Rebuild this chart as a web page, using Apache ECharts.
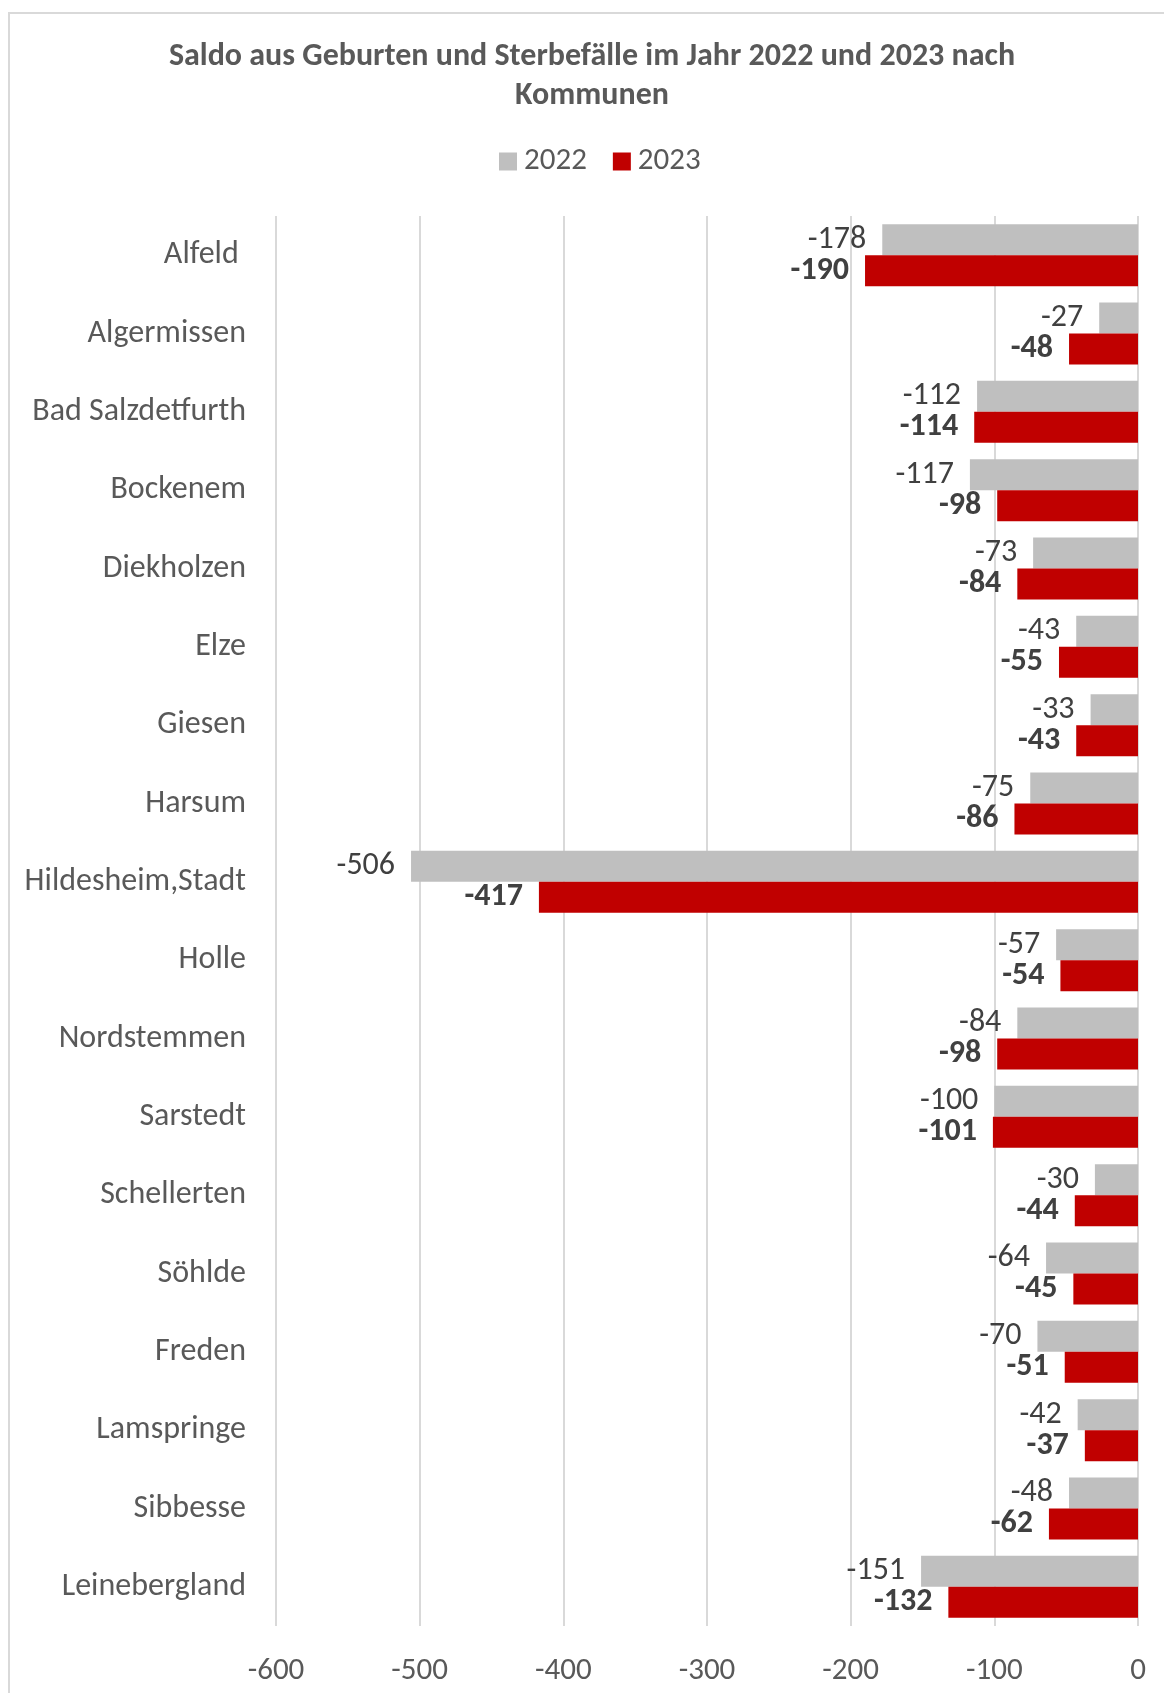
<!DOCTYPE html>
<html>
<head>
<meta charset="utf-8">
<script src="https://cdn.jsdelivr.net/npm/echarts@6/dist/echarts.min.js"></script>
<style>
  html, body { margin: 0; padding: 0; background: #fff; }
  #chart { width: 1164px; height: 1693px; }
</style>
</head>
<body>
<div id="chart"></div>
<script>
// Kommunen top to bottom, as in the reference
const KOMMUNEN = [
  "Alfeld ", "Algermissen", "Bad Salzdetfurth", "Bockenem", "Diekholzen",
  "Elze", "Giesen", "Harsum", "Hildesheim,Stadt", "Holle", "Nordstemmen",
  "Sarstedt", "Schellerten", "Söhlde", "Freden", "Lamspringe", "Sibbesse",
  "Leinebergland",
];
const SALDO_2022 = [-178, -27, -112, -117, -73, -43, -33, -75, -506, -57, -84, -100, -30, -64, -70, -42, -48, -151];
const SALDO_2023 = [-190, -48, -114, -98, -84, -55, -43, -86, -417, -54, -98, -101, -44, -45, -51, -37, -62, -132];
const X_TICKS = { min: -600, max: 0, interval: 100 };

// Lato shares Calibri's (Carlito's) proportions closely enough here
const FONT = "Carlito, Lato, Calibri, sans-serif";
const GREY = "#bfbfbf";
const RED = "#c00000";
const TEXT = "#595959";

const chart = echarts.init(document.getElementById("chart"));
chart.setOption({
  animation: false,
  textStyle: { fontFamily: FONT },
  title: {
    text: "Saldo aus Geburten und Sterbefälle im Jahr 2022 und 2023 nach\nKommunen",
    left: 587,
    top: 32,
    textAlign: "center",
    textStyle: { fontFamily: FONT, fontSize: 32, fontWeight: "bold", color: TEXT, lineHeight: 39 },
  },
  // the chart frame runs past the right edge, so the legend sits right of page centre
  legend: {
    top: 141,
    left: 494,
    itemWidth: 18,
    itemHeight: 18,
    itemGap: 26,
    icon: "rect",
    textStyle: { fontFamily: FONT, fontSize: 31, color: TEXT, padding: [0, 0, 0, 2] },
    data: ["2022", "2023"],
  },
  graphic: [{
    type: "rect",
    shape: { x: 9, y: 13, width: 1200, height: 1700 },
    style: { fill: "none", stroke: "#d9d9d9", lineWidth: 2 },
    silent: true,
  }],
  grid: { left: 276, right: 26, top: 216, bottom: 67, containLabel: false },
  xAxis: {
    type: "value",
    ...X_TICKS,
    axisLine: { show: false },
    axisTick: { show: false },
    axisLabel: { fontFamily: FONT, fontSize: 31, color: TEXT, margin: 30 },
    splitLine: { lineStyle: { color: "#d9d9d9", width: 2 } },
  },
  yAxis: {
    type: "category",
    inverse: true,
    data: KOMMUNEN,
    axisLine: { show: false },
    axisTick: { show: false },
    axisLabel: { fontFamily: FONT, fontSize: 32, color: TEXT, margin: 30, padding: [4, 0, 0, 0] },
  },
  series: [
    {
      name: "2022",
      type: "bar",
      data: SALDO_2022,
      itemStyle: { color: GREY },
      barWidth: 31,
      barGap: "0%",
      label: {
        show: true, position: "left", distance: 16, padding: [4, 0, 0, 0],
        fontFamily: FONT, fontSize: 32, color: "#404040",
      },
    },
    {
      name: "2023",
      type: "bar",
      data: SALDO_2023,
      itemStyle: { color: RED },
      barWidth: 31,
      barGap: "0%",
      label: {
        show: true, position: "left", distance: 16, padding: [4, 0, 0, 0],
        fontFamily: FONT, fontSize: 32, fontWeight: "bold", color: "#404040",
      },
    },
  ],
});
window.addEventListener("resize", () => chart.resize());
</script>
</body>
</html>
